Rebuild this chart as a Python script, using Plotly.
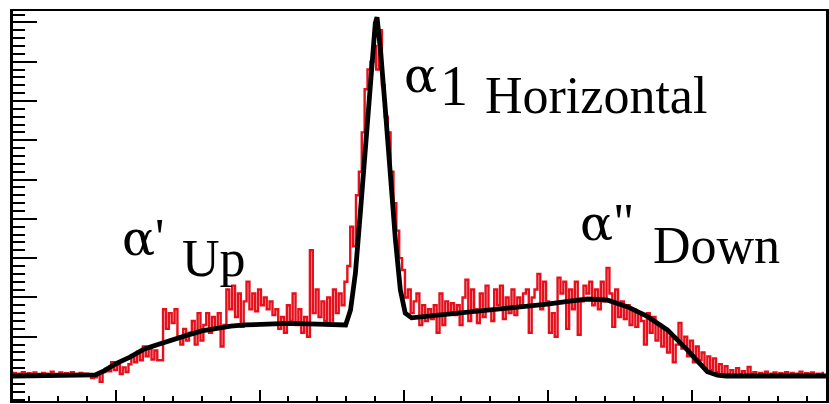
import plotly.graph_objects as go

# Histogram (red): bin centres and counts
bin_first = 14
counts = [
    0.5, 0.8, 0.3, 0.6, 1.0, 0.4, 0.7, 0.2, 0.9, 0.5,
    0.3, 0.8, 0.6, 0.2, 1.1, 0.5, 0.4, 0.9, 0.2, 0.7,
    0.4, 1.0, 0.5, 0.3, 0.8, 0.2, 0.6, 0.4, -0.5, -0.3,
    0.2, -1.5, 1.0, 1.8, 1.2, 3.5, 1.5, 2.8, 0.5, 2.2,
    1.0, 3.0, 5.0, 3.5, 6.2, 4.0, 7.5, 5.0, 7.0, 4.2,
    6.5, 4.0, 4.0, 17.0, 12.0, 16.0, 13.5, 17.0, 10.0, 8.0,
    12, 9, 11, 14, 8, 16, 9, 13, 16, 11,
    15, 12, 16, 7.5, 13, 22, 17, 23, 15, 21,
    12.5, 19, 24, 17, 21, 16.5, 22, 18, 20, 17,
    19, 15.5, 17, 12, 15, 11, 18, 14, 21, 13,
    17, 11, 15, 10, 32, 16, 22, 15, 19, 14,
    20, 13, 22, 16, 21, 18, 24, 28, 38, 33,
    46, 52, 62, 73, 78, 80, 84, 78, 88, 74,
    66, 62, 52, 44, 37, 30, 27, 20, 22, 16,
    19, 21, 13, 18, 14, 17, 14.5, 18, 11, 21,
    13, 19, 16, 18.5, 15.5, 18, 13, 20, 24.5, 14,
    22, 17, 13.5, 21, 15, 23, 17, 14, 22, 18,
    23, 14.5, 20, 16, 22, 15.5, 20, 18, 21, 22,
    11, 20, 22, 26, 17, 24, 19, 11, 16, 10,
    25, 21, 24, 12, 22, 17, 24, 10.5, 19, 23,
    21, 24, 18, 22, 17, 24, 19, 27.5, 21, 12.5,
    22, 15, 19, 14.5, 18, 13, 17, 12.5, 16, 14,
    8, 16, 11, 15, 9, 13, 7.5, 12, 6, 10,
    3.5, 8, 13.5, 7, 10, 5, 9, 3.5, 7.5, 4,
    6, 2, 5, 1.5, 4.5, 1, 3, 0.5, 2.5, 0.3,
    1.5, 0, 2, 0.4, 1.2, 0.3, 2.3, 0.6, 1.0, 0.2,
    0.8, 0.4, 1.1, 0.3, 0.6, 0.9, 0.2, 0.7, 0.5, 1.0,
    0.3, 0.8, 0.4, 0.6, 1.1, 0.2, 0.7, 0.5, 0.9, 0.3,
    0.6, 0.4, 0.8,
]
bins = list(range(bin_first, bin_first + len(counts)))

# Fit curve (black)
fit_x = [14.4, 25, 35, 40, 43, 46, 50, 55, 60, 65, 70, 75, 80, 85, 90, 95, 100,
         110, 120, 126, 129.9, 131.6, 133.3, 135.0, 136.7, 138.5, 140.2, 140.8,
         142.0, 143.7, 145.4, 147.2, 148.9, 150.6, 152.8, 160, 170, 180, 190,
         200, 207, 214, 220.9, 227.9, 234.8, 241.7, 248.6, 252.1, 255.5, 259,
         262, 270, 280, 296.7]
fit_y = [0, 0, 0, 0, 0.3, 1.3, 3.1, 4.8, 6.9, 8.1, 9.4, 10.4, 11.5, 12.2, 12.7,
         13.0, 13.2, 13.4, 13.2, 13.0, 13.0, 16.8, 26.2, 41.5, 58.3, 74.6, 89.8,
         91.3, 83.0, 67.7, 50.6, 34.6, 21.9, 16.0, 14.8, 15.3, 16.0, 16.7, 17.4,
         18.3, 19.0, 19.6, 19.3, 17.6, 15.1, 11.7, 6.6, 3.6, 1.1, 0.2,
         0, 0, 0, 0]

# Label pieces
greek = "α"
peak_mark = "1"
side_marks = ["'", "\""]
name_labels = ["Horizontal", "Up", "Down"]

fig = go.Figure()
fig.add_trace(go.Scatter(x=bins, y=counts, mode="lines",
                         line=dict(color="#e5101c", width=2.4, shape="hvh"),
                         hoverinfo="skip"))
fig.add_trace(go.Scatter(x=fit_x, y=fit_y, mode="lines",
                         line=dict(color="black", width=4.8),
                         hoverinfo="skip"))

W, H = 829, 404
L, R, T, B = 13, 0, 11, 3
pw, ph = W - L - R, H - T - B


def px(xp):
    return (xp - L) / pw


def py(yp):
    return (H - B - yp) / ph


def ann(txt, xp, yp, family, size):
    return dict(text=txt, x=px(xp), y=py(yp), xref="paper", yref="paper",
                xanchor="left", yanchor="middle", showarrow=False, borderpad=0,
                font=dict(family=family, size=size, color="black"))


def greek_span(g):
    return '<span style="font-family:\'DejaVu Serif\';font-size:49px">' + g + '</span>'


annotations = []
# central peak label: raised alpha followed by "1"
annotations.append(ann(greek, 404, 76, "DejaVu Serif", 49))
annotations.append(ann(peak_mark, 441, 86, "Liberation Serif", 56))
# side labels: alpha with prime marks
side_pos = [(121, 238), (581, 223)]
for m, (sx, sy) in zip(side_marks, side_pos):
    annotations.append(ann(greek_span(greek) + m, sx, sy, "Liberation Serif", 52))
# names
name_pos = [(486, 95), (182, 258), (654, 245)]
for n, (nx, ny) in zip(name_labels, name_pos):
    annotations.append(ann(n, nx, ny, "Liberation Serif", 52))

fig.update_layout(
    width=W, height=H,
    margin=dict(l=L, r=R, t=T, b=B),
    paper_bgcolor="white", plot_bgcolor="white",
    showlegend=False,
    annotations=annotations,
    xaxis=dict(range=[14.4, 296.7], showgrid=False, zeroline=False,
               showline=True, linecolor="black", linewidth=2, mirror=True,
               ticks="inside", tick0=0, dtick=50, ticklen=11, tickwidth=2,
               tickcolor="black", showticklabels=False,
               minor=dict(ticks="inside", dtick=10, ticklen=5, tickwidth=2,
                          tickcolor="black", showgrid=False)),
    yaxis=dict(range=[-6.36, 92.9], showgrid=False, zeroline=False,
               showline=True, linecolor="black", linewidth=2.5, mirror=True,
               ticks="inside", tick0=0, dtick=10, ticklen=24, tickwidth=2,
               tickcolor="black", showticklabels=False,
               minor=dict(ticks="inside", dtick=2, ticklen=12, tickwidth=2,
                          tickcolor="black", showgrid=False)),
)

fig.write_html("out.html")
